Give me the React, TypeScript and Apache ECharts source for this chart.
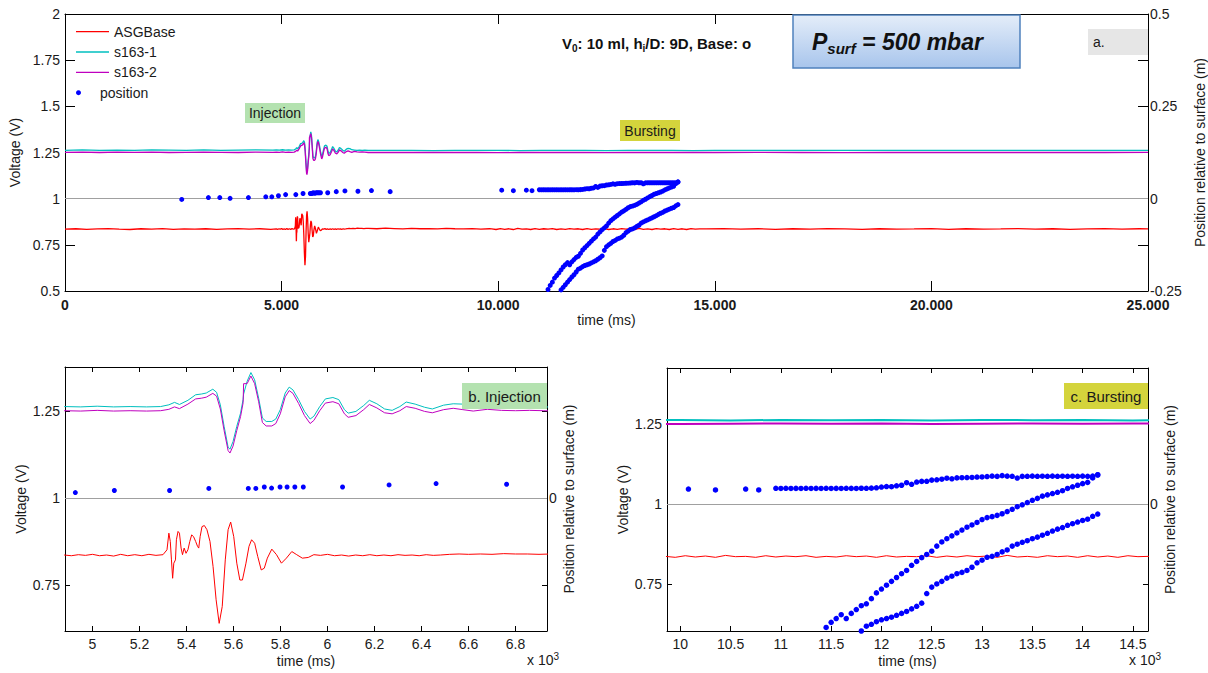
import React, { useEffect, useRef } from "react";
import * as echarts from "echarts";

const FONT = "'Liberation Sans', Arial, Helvetica, sans-serif";
const TXT = "#1a1a1a";
const RED = "#ff0000";
const CYAN = "#00bfbf";
const MAGENTA = "#bf00bf";
const BLUE = "#0000ff";

// ---------- DATA (time in ms, voltage in V, position in m) ----------
const asgBase: [number, number][] = [
  [0, 0.835], [250, 0.837], [500, 0.834], [750, 0.836], [1000, 0.838], [1250, 0.835], [1500, 0.833], [1750, 0.837],
  [2000, 0.835], [2250, 0.838], [2500, 0.834], [2750, 0.836], [3000, 0.835], [3250, 0.837], [3500, 0.834], [3750, 0.836],
  [4000, 0.838], [4250, 0.835], [4500, 0.837], [4750, 0.834],
  [4880, 0.836], [4910, 0.834], [4940, 0.837], [4970, 0.835], [5000, 0.838], [5030, 0.834], [5060, 0.836], [5090, 0.833],
  [5120, 0.838], [5150, 0.834], [5180, 0.837], [5210, 0.834], [5240, 0.838], [5270, 0.835], [5300, 0.837],
  [5317, 0.851], [5325, 0.899], [5331, 0.875], [5336, 0.822], [5341, 0.769], [5346, 0.8125], [5353, 0.822], [5357, 0.88],
  [5364, 0.904], [5370, 0.899], [5377, 0.856], [5383, 0.837], [5390, 0.856], [5398, 0.841], [5406, 0.851], [5414, 0.875],
  [5422, 0.894], [5430, 0.889], [5439, 0.875], [5447, 0.861], [5452, 0.856], [5458, 0.889], [5466, 0.918], [5476, 0.921],
  [5487, 0.909], [5500, 0.875], [5513, 0.803], [5526, 0.707], [5539, 0.639], [5552, 0.6875], [5565, 0.822], [5577, 0.909],
  [5588, 0.931], [5601, 0.889], [5614, 0.8125], [5627, 0.764], [5638, 0.764], [5653, 0.8125], [5666, 0.861], [5677, 0.88],
  [5690, 0.87], [5703, 0.832], [5718, 0.793], [5731, 0.798], [5744, 0.827], [5763, 0.853], [5783, 0.837], [5804, 0.8125],
  [5825, 0.827], [5848, 0.846], [5869, 0.837], [5893, 0.827], [5918, 0.829], [5942, 0.837],
  [5970, 0.835], [6000, 0.838], [6030, 0.834], [6060, 0.836], [6090, 0.833], [6120, 0.836], [6150, 0.834], [6180, 0.837],
  [6210, 0.834], [6240, 0.836], [6270, 0.834], [6300, 0.837], [6330, 0.835], [6360, 0.836], [6390, 0.834], [6420, 0.837],
  [6450, 0.835], [6480, 0.836], [6520, 0.838], [6560, 0.839], [6600, 0.838], [6650, 0.839], [6700, 0.838], [6750, 0.84],
  [6800, 0.839], [6850, 0.839], [6900, 0.838], [6950, 0.839],
  [7000, 0.839], [7200, 0.837], [7400, 0.84], [7600, 0.838], [7800, 0.836], [8000, 0.839], [8200, 0.837], [8400, 0.838],
  [8600, 0.836], [8800, 0.839], [9000, 0.837], [9200, 0.836], [9400, 0.838], [9600, 0.835], [9800, 0.837],
  [9850, 0.836], [9950, 0.833], [10050, 0.838], [10150, 0.834], [10250, 0.837], [10350, 0.833], [10450, 0.839], [10550, 0.835],
  [10650, 0.836], [10750, 0.833], [10850, 0.838], [10950, 0.834], [11050, 0.837], [11150, 0.835], [11250, 0.838], [11350, 0.833],
  [11450, 0.836], [11550, 0.834], [11650, 0.838], [11750, 0.835], [11850, 0.837], [11950, 0.833], [12050, 0.838], [12150, 0.834],
  [12250, 0.836], [12350, 0.835], [12450, 0.838], [12550, 0.833], [12650, 0.837], [12750, 0.834], [12850, 0.838], [12950, 0.835],
  [13050, 0.837], [13150, 0.833], [13250, 0.839], [13350, 0.834], [13450, 0.836], [13550, 0.833], [13650, 0.838], [13750, 0.835],
  [13850, 0.837], [13950, 0.833], [14050, 0.838], [14150, 0.834], [14250, 0.837], [14350, 0.833], [14450, 0.838], [14550, 0.835],
  [14650, 0.836],
  [14800, 0.836], [15200, 0.838], [15600, 0.835], [16000, 0.837], [16400, 0.834], [16800, 0.837], [17200, 0.835], [17600, 0.838],
  [18000, 0.836], [18400, 0.834], [18800, 0.837], [19200, 0.835], [19600, 0.836], [20000, 0.838], [20400, 0.834], [20800, 0.837],
  [21200, 0.835], [21600, 0.836], [22000, 0.838], [22400, 0.835], [22800, 0.837], [23200, 0.834], [23600, 0.836], [24000, 0.838],
  [24400, 0.835], [24800, 0.837], [25000, 0.836],
];

const s1631: [number, number][] = [
  [0, 1.262], [400, 1.264], [800, 1.262], [1200, 1.263], [1600, 1.262], [2000, 1.264], [2400, 1.263], [2800, 1.262],
  [3200, 1.264], [3600, 1.262], [4000, 1.263], [4400, 1.264], [4800, 1.263],
  [4880, 1.264], [4950, 1.263], [5020, 1.265], [5090, 1.263], [5160, 1.264], [5230, 1.263], [5290, 1.264],
  [5325, 1.269], [5349, 1.276], [5370, 1.27], [5406, 1.282], [5439, 1.298], [5463, 1.3], [5484, 1.303], [5512, 1.314],
  [5528, 1.305], [5544, 1.269], [5560, 1.207], [5577, 1.147], [5585, 1.141], [5598, 1.163], [5614, 1.207], [5630, 1.245],
  [5641, 1.285], [5643, 1.3], [5658, 1.337], [5674, 1.362], [5690, 1.341], [5707, 1.288], [5723, 1.231], [5739, 1.221],
  [5763, 1.221], [5780, 1.228], [5799, 1.255], [5820, 1.303], [5837, 1.32], [5853, 1.312], [5877, 1.284], [5902, 1.25],
  [5926, 1.228], [5942, 1.236], [5967, 1.264], [5991, 1.286], [6023, 1.29], [6048, 1.284], [6072, 1.255], [6088, 1.245],
  [6121, 1.25], [6154, 1.267], [6178, 1.282], [6210, 1.272], [6243, 1.257], [6275, 1.253], [6308, 1.264], [6335, 1.277],
  [6373, 1.271], [6413, 1.262], [6446, 1.257], [6494, 1.268], [6535, 1.272], [6576, 1.271], [6620, 1.265], [6680, 1.263],
  [6740, 1.261], [6800, 1.263], [6860, 1.262], [6920, 1.263],
  [7000, 1.262], [7500, 1.261], [8000, 1.262], [8500, 1.26], [9000, 1.262], [9500, 1.261], [10000, 1.262], [10500, 1.26],
  [11000, 1.262], [11500, 1.261], [12000, 1.262], [12500, 1.26], [13000, 1.262], [13500, 1.261], [14000, 1.262], [14500, 1.26],
  [15000, 1.262], [16000, 1.261], [17000, 1.262], [18000, 1.261], [19000, 1.262], [20000, 1.261], [21000, 1.262], [22000, 1.261],
  [23000, 1.262], [24000, 1.261], [25000, 1.262],
];

const s1632: [number, number][] = [
  [0, 1.251], [400, 1.252], [800, 1.25], [1200, 1.252], [1600, 1.251], [2000, 1.252], [2400, 1.25], [2800, 1.251],
  [3200, 1.252], [3600, 1.251], [4000, 1.25], [4400, 1.252], [4800, 1.251],
  [4880, 1.252], [4950, 1.251], [5020, 1.253], [5090, 1.251], [5160, 1.252], [5230, 1.251], [5290, 1.252],
  [5325, 1.256], [5349, 1.263], [5370, 1.258], [5406, 1.271], [5439, 1.286], [5463, 1.288], [5484, 1.291], [5512, 1.302],
  [5528, 1.294], [5544, 1.257], [5560, 1.195], [5577, 1.137], [5585, 1.13], [5598, 1.15], [5614, 1.195], [5630, 1.235],
  [5641, 1.275], [5643, 1.33], [5658, 1.33], [5674, 1.352], [5690, 1.33], [5707, 1.278], [5723, 1.218], [5739, 1.208],
  [5763, 1.208], [5780, 1.215], [5799, 1.243], [5820, 1.292], [5837, 1.31], [5853, 1.302], [5877, 1.273], [5902, 1.238],
  [5926, 1.215], [5942, 1.224], [5967, 1.252], [5991, 1.274], [6023, 1.278], [6048, 1.272], [6072, 1.243], [6088, 1.233],
  [6121, 1.238], [6154, 1.255], [6178, 1.27], [6210, 1.26], [6243, 1.246], [6275, 1.243], [6308, 1.252], [6335, 1.264],
  [6373, 1.259], [6413, 1.25], [6446, 1.246], [6494, 1.255], [6535, 1.259], [6576, 1.255], [6620, 1.251], [6680, 1.256],
  [6740, 1.253], [6800, 1.252], [6860, 1.253], [6920, 1.252],
  [7000, 1.25], [7500, 1.251], [8000, 1.25], [8500, 1.251], [9000, 1.25], [9500, 1.251], [10000, 1.249], [10500, 1.25],
  [11000, 1.251], [11500, 1.25], [12000, 1.251], [12500, 1.249], [13000, 1.25], [13500, 1.251], [14000, 1.25], [14500, 1.251],
  [15000, 1.25], [16000, 1.251], [17000, 1.25], [18000, 1.249], [19000, 1.251], [20000, 1.25], [21000, 1.251], [22000, 1.25],
  [23000, 1.251], [24000, 1.25], [25000, 1.251],
];

// position relative to surface (m)
const posEarly: [number, number][] = [
  [2695, -0.002], [3310, 0.003], [3573, 0.003], [3811, 0.001], [4234, 0.003], [4635, 0.005], [4774, 0.005],
  [4927, 0.008], [5093, 0.011], [5328, 0.011], [5495, 0.014], [5663, 0.014], [5695, 0.014], [5731, 0.016],
  [5762, 0.0145], [5798, 0.016], [5828, 0.016], [5861, 0.016], [5897, 0.016], [6064, 0.016], [6262, 0.019],
  [6462, 0.021], [6762, 0.02], [7074, 0.022], [7506, 0.019],
  [10081, 0.023], [10350, 0.0216], [10650, 0.023], [10780, 0.0216],
];

const posTop: [number, number][] = [
  [10950, 0.0242], [11000, 0.024], [11050, 0.0242], [11100, 0.024], [11150, 0.0241], [11200, 0.024], [11250, 0.0242],
  [11300, 0.024], [11350, 0.0241], [11400, 0.024], [11450, 0.0242], [11500, 0.024], [11550, 0.0241], [11600, 0.024],
  [11650, 0.0242], [11700, 0.0241], [11750, 0.024], [11800, 0.0243], [11850, 0.0242], [11900, 0.0245], [11950, 0.025],
  [12000, 0.0262], [12050, 0.027], [12100, 0.0268], [12150, 0.0282], [12200, 0.029], [12250, 0.033], [12300, 0.0305],
  [12350, 0.034], [12400, 0.035], [12450, 0.0352], [12500, 0.037], [12550, 0.0375], [12600, 0.0385], [12650, 0.04],
  [12700, 0.039], [12750, 0.0405], [12800, 0.0408], [12850, 0.041], [12900, 0.0412], [12950, 0.0418], [13000, 0.042],
  [13050, 0.0425], [13100, 0.0432], [13150, 0.0428], [13200, 0.044], [13250, 0.0432], [13300, 0.043], [13350, 0.0402],
  [13400, 0.0428], [13450, 0.043], [13500, 0.0432], [13550, 0.043], [13600, 0.0431], [13650, 0.043], [13700, 0.0432],
  [13750, 0.043], [13800, 0.0431], [13850, 0.043], [13900, 0.0431], [13950, 0.043], [14000, 0.0432], [14050, 0.043],
  [14100, 0.0433], [14150, 0.0455],
];

const posUpper: [number, number][] = [
  [14150, 0.045], [14100, 0.0405], [14050, 0.0335], [14000, 0.0315], [13950, 0.029], [13900, 0.0265], [13850, 0.024],
  [13800, 0.0205], [13750, 0.018], [13700, 0.016], [13650, 0.014], [13600, 0.012], [13550, 0.0085], [13500, 0.0055],
  [13450, 0.002], [13400, -0.0015], [13350, -0.0045], [13300, -0.0085], [13250, -0.012], [13200, -0.0155], [13150, -0.018],
  [13100, -0.02], [13050, -0.0215], [13000, -0.0245], [12950, -0.029], [12900, -0.033], [12850, -0.0365], [12800, -0.041],
  [12750, -0.0455], [12700, -0.05], [12650, -0.0545], [12600, -0.0595], [12550, -0.066], [12500, -0.074], [12450, -0.079],
  [12400, -0.084], [12350, -0.09], [12300, -0.096], [12250, -0.104], [12200, -0.109], [12150, -0.115], [12100, -0.121],
  [12050, -0.127], [12000, -0.133], [11950, -0.139], [11900, -0.148], [11850, -0.156], [11800, -0.159], [11750, -0.165],
  [11700, -0.171], [11650, -0.179], [11600, -0.173], [11550, -0.179], [11500, -0.185], [11450, -0.193], [11400, -0.201],
  [11350, -0.208], [11300, -0.215], [11250, -0.226], [11200, -0.235], [11150, -0.246],
];

const posLower: [number, number][] = [
  [14150, -0.016], [14100, -0.0195], [14050, -0.024], [14000, -0.026], [13950, -0.0285], [13900, -0.031], [13850, -0.0335],
  [13800, -0.037], [13750, -0.0395], [13700, -0.0425], [13650, -0.046], [13600, -0.049], [13550, -0.052], [13500, -0.0545],
  [13450, -0.0575], [13400, -0.06], [13350, -0.063], [13300, -0.066], [13250, -0.072], [13200, -0.075], [13150, -0.079],
  [13100, -0.082], [13050, -0.0835], [13000, -0.088], [12950, -0.092], [12900, -0.099], [12850, -0.104], [12800, -0.107],
  [12750, -0.109], [12700, -0.113], [12650, -0.116], [12600, -0.121], [12550, -0.125], [12500, -0.13], [12450, -0.14],
  [12400, -0.155], [12350, -0.16], [12300, -0.164], [12250, -0.168], [12200, -0.171], [12150, -0.174], [12100, -0.177],
  [12050, -0.179], [12000, -0.181], [11950, -0.184], [11900, -0.188], [11850, -0.191], [11800, -0.1985], [11750, -0.206],
  [11700, -0.212], [11650, -0.219], [11600, -0.226], [11550, -0.233], [11500, -0.24], [11450, -0.247],
];

// tick values
const aTimeTicksInterval = 5000;
const bTimeTicks = [5000, 5200, 5400, 5600, 5800, 6000, 6200, 6400, 6600, 6800];
const cTimeTicks = [10000, 10500, 11000, 11500, 12000, 12500, 13000, 13500, 14000, 14500];
const bcVoltTicks = [0.75, 1, 1.25];
const bcPosTicks = [-0.125, 0, 0.125];
const bcPosLabels = [0];

// ---------- LAYOUT ----------
const grids = [
  { left: 65, top: 14, width: 1083, height: 277 },
  { left: 65, top: 367, width: 482, height: 264 },
  { left: 667, top: 368, width: 481, height: 263 },
];
const ranges = [
  { x: [0, 25000], v: [0.5, 2], p: [-0.25, 0.5] },
  { x: [4883, 6934], v: [0.617, 1.378], p: [-0.1915, 0.189] },
  { x: [9868, 14650], v: [0.603, 1.424], p: [-0.1985, 0.212] },
];

const lineStyle = { color: "#000", width: 1 };
const baseLabel = { color: TXT, fontSize: 14, fontFamily: FONT };
const nameStyle = { color: TXT, fontSize: 14, fontFamily: FONT };

function buildOption() {
  const xAxis: any[] = [];
  const yAxis: any[] = [];
  const series: any[] = [];

  for (let p = 0; p < 3; p++) {
    const r = ranges[p];
    const tl = p === 0 ? 10 : 5;
    const common = {
      type: "value",
      gridIndex: p,
      min: r.x[0],
      max: r.x[1],
      splitLine: { show: false },
      axisLine: { show: true, onZero: false, lineStyle },
    };
    const xTickVals = p === 1 ? bTimeTicks : cTimeTicks;
    const fmt =
      p === 0
        ? (v: number) => (v === 0 ? "0" : (v / 1000).toFixed(3))
        : (v: number) => String(Math.round(v / 100) / 10);
    const bottom: any = {
      ...common,
      position: "bottom",
      axisTick: { show: true, inside: true, length: tl, lineStyle },
      axisLabel: {
        ...baseLabel,
        fontWeight: p === 0 ? "bold" : "normal",
        margin: p === 0 ? 7 : 6,
        formatter: fmt,
        showMinLabel: true,
        showMaxLabel: true,
      },
      name: "time (ms)",
      nameLocation: "middle",
      nameGap: p === 0 ? 22 : 23,
      nameTextStyle: nameStyle,
    };
    const top: any = {
      ...common,
      position: "top",
      axisTick: { show: true, inside: true, length: tl, lineStyle },
      axisLabel: { show: false },
    };
    if (p === 0) {
      bottom.interval = aTimeTicksInterval;
      top.interval = aTimeTicksInterval;
    } else {
      bottom.axisTick.customValues = xTickVals;
      bottom.axisLabel.customValues = xTickVals;
      top.axisTick.customValues = xTickVals;
    }
    xAxis.push(bottom, top);

    const left: any = {
      type: "value",
      gridIndex: p,
      position: "left",
      min: r.v[0],
      max: r.v[1],
      splitLine: { show: false },
      axisLine: { show: true, onZero: false, lineStyle },
      axisTick: { show: true, inside: true, length: tl, lineStyle },
      axisLabel: { ...baseLabel, margin: 5, showMinLabel: true, showMaxLabel: true },
      name: "Voltage (V)",
      nameLocation: "middle",
      nameGap: 37,
      nameTextStyle: nameStyle,
    };
    const right: any = {
      type: "value",
      gridIndex: p,
      position: "right",
      min: r.p[0],
      max: r.p[1],
      splitLine: { show: false },
      axisLine: { show: true, onZero: false, lineStyle },
      axisTick: { show: true, inside: true, length: tl, lineStyle },
      axisLabel: { ...baseLabel, margin: 2, showMinLabel: true, showMaxLabel: true },
      name: "Position relative to surface (m)",
      nameLocation: "middle",
      nameGap: p === 0 ? 35 : 15,
      nameTextStyle: nameStyle,
    };
    if (p === 0) {
      left.interval = 0.25;
      right.interval = 0.125;
      right.axisLabel.formatter = (v: number) => {
        const q = v * 4;
        return Math.abs(q - Math.round(q)) < 1e-6 ? String(Math.round(v * 100) / 100) : "";
      };
    } else {
      left.axisTick.customValues = bcVoltTicks;
      left.axisLabel.customValues = bcVoltTicks;
      right.axisTick.customValues = bcPosTicks;
      right.axisLabel.customValues = bcPosLabels;
    }
    yAxis.push(left, right);

    const lw = p === 0 ? 1.3 : 1;
    const lwc = p === 2 ? 2 : lw;
    series.push(
      {
        type: "line",
        name: "ASGBase",
        xAxisIndex: 2 * p,
        yAxisIndex: 2 * p,
        data: asgBase,
        symbol: "none",
        showSymbol: false,
        lineStyle: { color: RED, width: lw },
        itemStyle: { color: RED },
        silent: true,
        z: 2,
        markLine: {
          silent: true,
          symbol: ["none", "none"],
          label: { show: false },
          lineStyle: { color: "#a0a0a0", width: 1, type: "solid" },
          emphasis: { disabled: true },
          data: [{ yAxis: 1 }],
        },
      },
      {
        type: "line",
        name: "s163-1",
        xAxisIndex: 2 * p,
        yAxisIndex: 2 * p,
        data: s1631,
        symbol: "none",
        showSymbol: false,
        lineStyle: { color: CYAN, width: lwc },
        itemStyle: { color: CYAN },
        silent: true,
        z: 3,
      },
      {
        type: "line",
        name: "s163-2",
        xAxisIndex: 2 * p,
        yAxisIndex: 2 * p,
        data: s1632,
        symbol: "none",
        showSymbol: false,
        lineStyle: { color: MAGENTA, width: lwc },
        itemStyle: { color: MAGENTA },
        silent: true,
        z: 4,
      },
      {
        type: "scatter",
        name: "position",
        xAxisIndex: 2 * p,
        yAxisIndex: 2 * p + 1,
        data: [...posEarly, ...posTop, ...posUpper, ...posLower],
        symbol: "circle",
        symbolSize: p === 2 ? 5.5 : 5,
        itemStyle: { color: BLUE, opacity: 1 },
        silent: true,
        z: 5,
      }
    );
  }

  const txt = (x: number, y: number, text: string, size: number, extra: any = {}) => ({
    type: "text",
    x,
    y,
    z: 100,
    silent: true,
    style: {
      text,
      fill: TXT,
      font: `${extra.weight || "normal"} ${size}px ${FONT}`,
      align: extra.align || "left",
      verticalAlign: "middle",
      textAlign: extra.align || "left",
      textVerticalAlign: "middle",
    },
  });
  const box = (x: number, y: number, w: number, h: number, fill: any, extra: any = {}) => ({
    type: "rect",
    z: 99,
    silent: true,
    shape: { x, y, width: w, height: h },
    style: { fill, stroke: extra.stroke || null, lineWidth: extra.lineWidth || 0 },
  });
  const GREEN = "#b4e2b0";
  const YELLOW = "#d4d43c";

  const graphic = [
    box(245, 103, 60, 20, GREEN),
    txt(275, 113, "Injection", 14, { align: "center" }),
    box(620, 120, 60, 21, YELLOW),
    txt(650, 130.5, "Bursting", 14, { align: "center" }),
    box(1088, 29, 60, 26, "#e6e6e6"),
    txt(1093, 42, "a.", 14),
    box(462, 383, 85, 26, GREEN),
    txt(504.5, 396, "b. Injection", 15, { align: "center" }),
    box(1064, 383, 84, 26, YELLOW),
    txt(1106, 396, "c. Bursting", 15, { align: "center" }),
    box(
      793,
      15,
      227,
      53,
      {
        type: "linear",
        x: 0,
        y: 0,
        x2: 0,
        y2: 1,
        colorStops: [
          { offset: 0, color: "#e4edf9" },
          { offset: 1, color: "#a8c5ec" },
        ],
      },
      { stroke: "#4f81bd", lineWidth: 1.5 }
    ),
    {
      type: "text",
      x: 812,
      y: 42,
      z: 100,
      silent: true,
      style: {
        text: "{p|P}{s|surf}{p| = 500 mbar}",
        align: "left",
        verticalAlign: "middle",
        rich: {
          p: { fontSize: 23, fontWeight: "bold", fontStyle: "italic", fontFamily: FONT, fill: "#111", lineHeight: 28, verticalAlign: "middle" },
          s: { fontSize: 15, fontWeight: "bold", fontStyle: "italic", fontFamily: FONT, fill: "#111", lineHeight: 14, verticalAlign: "bottom" },
        },
      },
    },
    {
      type: "text",
      x: 562,
      y: 43,
      z: 100,
      silent: true,
      style: {
        text: "{b|V}{s|0}{b|: 10 ml, h}{s|i}{b|/D: 9D, Base: o}",
        align: "left",
        verticalAlign: "middle",
        rich: {
          b: { fontSize: 15, fontWeight: "bold", fontFamily: FONT, fill: "#111", lineHeight: 20, verticalAlign: "middle" },
          s: { fontSize: 10, fontWeight: "bold", fontFamily: FONT, fill: "#111", lineHeight: 11, verticalAlign: "bottom" },
        },
      },
    },
    ...[527, 1129].map((x) => ({
      type: "text",
      x,
      y: 660,
      z: 100,
      silent: true,
      style: {
        text: "{b|x 10}{s|3}",
        align: "left",
        verticalAlign: "middle",
        rich: {
          b: { fontSize: 14, fontFamily: FONT, fill: TXT, lineHeight: 18, verticalAlign: "middle" },
          s: { fontSize: 10, fontFamily: FONT, fill: TXT, lineHeight: 10, verticalAlign: "top" },
        },
      },
    })),
  ];

  return {
    animation: false,
    backgroundColor: "#ffffff",
    textStyle: { fontFamily: FONT },
    grid: grids.map((g) => ({ ...g, containLabel: false, outerBoundsMode: "none" })),
    legend: [
      {
        data: [
          { name: "ASGBase", icon: "rect" },
          { name: "s163-1", icon: "rect" },
          { name: "s163-2", icon: "rect" },
        ],
        orient: "vertical",
        left: 76,
        top: 24.7,
        padding: 0,
        itemWidth: 33,
        itemHeight: 1.3,
        itemGap: 6.3,
        selectedMode: false,
        textStyle: { ...baseLabel, lineHeight: 14 },
      },
      {
        data: ["position"],
        orient: "vertical",
        left: 76,
        top: 85.7,
        padding: 0,
        itemWidth: 33,
        itemHeight: 5,
        selectedMode: false,
        textStyle: { ...baseLabel, lineHeight: 14 },
      },
    ],
    xAxis,
    yAxis,
    series,
    graphic,
  };
}

export default function App() {
  const ref = useRef<HTMLDivElement>(null);
  useEffect(() => {
    if (!ref.current) return;
    const chart = echarts.init(ref.current, null, { renderer: "svg" });
    chart.setOption(buildOption() as any);
    return () => chart.dispose();
  }, []);
  return (
    <div
      ref={ref}
      style={{ position: "fixed", left: 0, top: 0, width: 1208, height: 673, background: "#fff" }}
    />
  );
}
